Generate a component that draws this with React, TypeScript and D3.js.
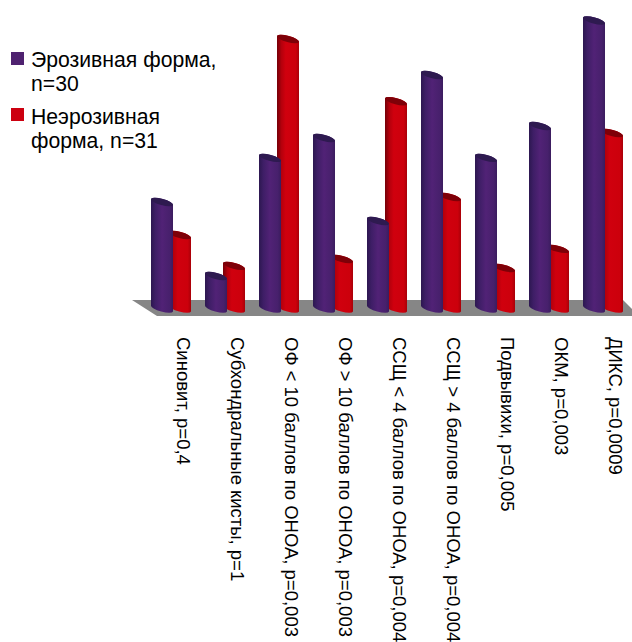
import React from "react";
import { scaleBand, scaleLinear } from "d3";

// Share of patients (%) with each finding, by form of the disease
const categories = [
  "Синовит, p=0,4",
  "Субхондральные кисты, p=1",
  "ОФ < 10 баллов по ОНОА, p=0,003",
  "ОФ > 10 баллов по ОНОА, p=0,003",
  "ССЩ < 4 баллов по ОНОА, p=0,004",
  "ССЩ > 4 баллов по ОНОА, p=0,004",
  "Подвывихи, p=0,005",
  "ОКМ, p=0,003",
  "ДИКС, p=0,0009",
];
const erosive = [37, 11.3, 52.3, 59.2, 30.4, 81.1, 52.3, 63.4, 100];
const nonErosive = [25.5, 14.8, 93.6, 17.2, 72, 38.7, 14.1, 20.7, 60.9];
const legendErosive = ["Эрозивная форма,", "n=30"];
const legendNonErosive = ["Неэрозивная", "форма, n=31"];

const WIDTH = 632;
const HEIGHT = 642;
const FONT = "'Liberation Sans', Arial, sans-serif";

const x = scaleBand<string>().domain(categories).range([151, 151 + 54 * categories.length]);
const y = scaleLinear().domain([0, 100]).range([308.5, 20.5]);
const BAR_W = 22;
const RED_SHIFT = 18;
const TILT = 3;
const RX = Math.hypot(BAR_W / 2, TILT);
const RY = 3.1;
const ANGLE = (Math.atan2(TILT, BAR_W / 2) * 180) / Math.PI;

// Body of a tilted cylinder: left side down, lower arc, right side up, upper arc back
function bodyPath(left: number, top: number, base: number) {
  const r = left + BAR_W;
  return `M${left},${top - TILT} L${left},${base - TILT} A${RX},${RY} ${ANGLE} 0 0 ${r},${base + TILT} L${r},${top + TILT} A${RX},${RY} ${ANGLE} 0 0 ${left},${top - TILT} Z`;
}

function Cylinder({ left, value, body, cap }: { left: number; value: number; body: string; cap: string }) {
  const top = y(value);
  return (
    <g>
      <path d={bodyPath(left, top, y(0))} fill={`url(#${body})`} />
      <ellipse
        cx={left + BAR_W / 2}
        cy={top}
        rx={RX}
        ry={RY}
        fill={cap}
        transform={`rotate(${ANGLE} ${left + BAR_W / 2} ${top})`}
      />
    </g>
  );
}

function Gradient({ id, stops }: { id: string; stops: [number, string][] }) {
  return (
    <linearGradient id={id} x1="0" x2="1" y1="0" y2="0">
      {stops.map(([o, c]) => (
        <stop key={o} offset={o} stopColor={c} />
      ))}
    </linearGradient>
  );
}

export default function App() {
  return (
    <svg
      width={WIDTH}
      height={HEIGHT}
      viewBox={`0 0 ${WIDTH} ${HEIGHT}`}
      style={{ position: "absolute", left: 0, top: 0, background: "#fff" }}
    >
      <defs>
        <Gradient
          id="purpleBody"
          stops={[
            [0, "#2c1750"],
            [0.2, "#3e1e66"],
            [0.5, "#512276"],
            [0.85, "#47206c"],
            [1, "#3a1c5e"],
          ]}
        />
        <Gradient
          id="redBody"
          stops={[
            [0, "#740008"],
            [0.2, "#b4000c"],
            [0.4, "#d0000e"],
            [0.85, "#cc000c"],
            [1, "#a80008"],
          ]}
        />
      </defs>

      {/* floor of the 3D plot */}
      <polygon points="132,300 623,300 639,316 157,316" fill="#868686" />

      {categories.map((c, i) => {
        const left = x(c) as number;
        return (
          <g key={c}>
            <Cylinder left={left + RED_SHIFT} value={nonErosive[i]} body="redBody" cap="#7e0008" />
            <Cylinder left={left} value={erosive[i]} body="purpleBody" cap="#2e1a50" />
          </g>
        );
      })}

      {/* category labels read top to bottom */}
      {categories.map((c) => (
        <text
          key={c}
          transform={`translate(${(x(c) as number) + 26},337) rotate(90)`}
          fontFamily={FONT}
          fontSize={18.5}
          fill="#000"
        >
          {c}
        </text>
      ))}

      {/* legend */}
      <rect x={11} y={52} width={13} height={13} fill="#4f2270" />
      <rect x={11} y={108} width={13} height={13} fill="#cc0010" />
      <g fontFamily={FONT} fontSize={21.2} fill="#000">
        <text x={31} y={67}>{legendErosive[0]}</text>
        <text x={31} y={91}>{legendErosive[1]}</text>
        <text x={31} y={124}>{legendNonErosive[0]}</text>
        <text x={31} y={148}>{legendNonErosive[1]}</text>
      </g>
    </svg>
  );
}
